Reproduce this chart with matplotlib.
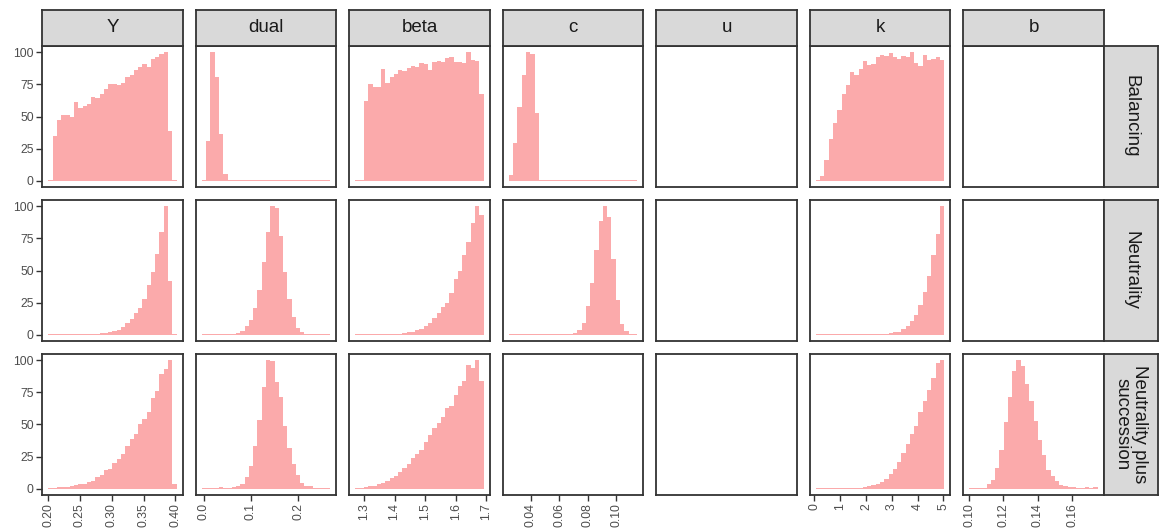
import numpy as np
import matplotlib.pyplot as plt

plt.rcParams['font.family'] = ['Liberation Sans', 'DejaVu Sans']

variables = ['Y', 'dual', 'beta', 'c', 'u', 'k', 'b']
models = ['Balancing', 'Neutrality', 'Neutrality plus\nsuccession']

# span of the histogram bins in each column (30 bins each)
x_ranges = {'Y': (0.2005, 0.4020), 'dual': (-0.004, 0.268), 'beta': (1.272, 1.691),
            'c': (0.0248, 0.1145), 'u': (0.0, 1.0), 'k': (0.06, 5.03), 'b': (0.1002, 0.1747)}
x_ticks = {'Y': [0.20, 0.25, 0.30, 0.35, 0.40], 'dual': [0.0, 0.1, 0.2],
           'beta': [1.3, 1.4, 1.5, 1.6, 1.7], 'c': [0.04, 0.06, 0.08, 0.10], 'u': [],
           'k': [0, 1, 2, 3, 4, 5], 'b': [0.10, 0.12, 0.14, 0.16]}
x_labels = {'Y': ['0.20', '0.25', '0.30', '0.35', '0.40'], 'dual': ['0.0', '0.1', '0.2'],
            'beta': ['1.3', '1.4', '1.5', '1.6', '1.7'], 'c': ['0.04', '0.06', '0.08', '0.10'],
            'u': [], 'k': ['0', '1', '2', '3', '4', '5'], 'b': ['0.10', '0.12', '0.14', '0.16']}
y_ticks = [0, 25, 50, 75, 100]

# scaled counts (max = 100)
bal_Y = [0.8, 34.5, 47, 51, 51.5, 50, 61.6, 57, 58.5, 60, 65.5, 64.7, 67.8, 71.6, 75.5,
         75.5, 74.7, 76.3, 81, 82.5, 86.3, 88.7, 91, 88.7, 94.8, 96.4, 98.7, 100, 39, 0.8]
bal_dual = [0.8, 30.7, 100, 81, 36, 5.2, 0.8, 0.8, 0.8, 0.8, 0.8, 0.8, 0.8, 0.8, 0.8,
            0.8, 0.8, 0.8, 0.8, 0.8, 0.8, 0.8, 0.8, 0.8, 0.8, 0.8, 0.8, 0.8, 0.8, 0.8]
bal_beta = [0.8, 0.8, 62.4, 75.5, 73.2, 73.2, 87, 76.3, 81, 83.2, 86.3, 85.6, 87.9, 89.4, 88.7,
            91.8, 91, 86.3, 92.5, 93.3, 92.5, 95.6, 96.4, 92.5, 92.5, 91.8, 100, 94, 93.3, 67.8]
bal_c = [4.4, 29, 57.7, 82.5, 100, 98.7, 53, 0.8, 0.8, 0.8, 0.8, 0.8, 0.8, 0.8, 0.8,
         0.8, 0.8, 0.8, 0.8, 0.8, 0.8, 0.8, 0.8, 0.8, 0.8, 0.8, 0.8, 0.8, 0.8, 0.8]
bal_k = [0.5, 3.6, 16, 32.2, 44.6, 55.4, 67.8, 74.7, 84.8, 82.5, 87, 93.3, 90, 90.7, 96.4,
         97.9, 97.2, 99.5, 96.4, 94.8, 97.2, 96.4, 100, 91.8, 89.4, 97.9, 94, 94.8, 96.4, 94]

neu_Y = [0.8, 0.8, 0.8, 0.8, 0.8, 0.8, 0.8, 0.8, 0.8, 0.8, 0.8, 0.8, 1.0, 1.5, 2,
         3, 3.6, 6, 9, 12, 16.7, 20.6, 27.6, 39, 48.5, 63, 80, 100, 41.5, 0.8]
neu_dual = [0.8, 0.8, 0.8, 0.8, 0.8, 0.8, 0.8, 0.8, 1.3, 2.8, 6.7, 11.3, 20.6, 34.5, 57,
            80, 100, 98.7, 77, 48.5, 27.6, 13.7, 5.2, 2, 0.8, 0.8, 0.8, 0.8, 0.8, 0.8]
neu_beta = [0.8, 0.8, 0.8, 0.8, 0.8, 0.8, 0.8, 0.8, 0.8, 0.8, 0.8, 1.3, 1.8, 2.3, 3.6,
            4.4, 6.7, 9, 12.9, 16.7, 21.4, 24.5, 32.2, 43, 50, 62.4, 72.4, 87, 100, 93.3]
neu_c = [0.8, 0.8, 0.8, 0.8, 0.8, 0.8, 0.8, 0.8, 0.8, 0.8, 0.8, 0.8, 0.8, 0.8, 0.8,
         1.3, 3.6, 9, 22, 40, 66, 88.7, 100, 91.8, 59, 26.8, 8.2, 2.8, 0.8, 0.8]
neu_k = [0.8, 0.8, 0.8, 0.8, 0.8, 0.8, 0.8, 0.8, 0.8, 0.8, 0.8, 0.8, 0.8, 0.8, 0.8,
         0.8, 0.8, 1.3, 1.8, 2.3, 4.6, 6.7, 10.8, 15.5, 23, 33.2, 45.4, 62.4, 78.6, 100]

suc_Y = [0.8, 0.8, 1.5, 1.5, 1.5, 2.3, 3.1, 3.6, 3.6, 5.2, 6, 9.3, 10.6, 14.4, 15.5,
         19.8, 23, 26.8, 33, 38.4, 42.3, 50, 54.6, 60, 70.9, 76.3, 89.4, 93.3, 100, 3.6]
suc_dual = [0.5, 0.5, 0.5, 0.5, 1.0, 0.5, 0.8, 1.2, 2, 3.6, 9, 17.5, 33, 53.6, 79.4,
            100, 99.5, 83.2, 71.6, 48.5, 31.4, 19, 10.6, 4.4, 2, 2, 0.8, 0.8, 0.8, 0.8]
suc_beta = [0.5, 0.5, 1.3, 2, 2, 3.6, 4.4, 6, 8.2, 9.8, 12.9, 16, 19, 23.7, 26.8,
            30, 36, 41.5, 47, 51.5, 56.2, 63, 64.7, 73.2, 80.2, 84, 96.4, 94, 100, 84]
suc_k = [0.8, 0.8, 0.8, 0.8, 0.8, 0.8, 0.8, 0.8, 0.8, 0.8, 0.8, 1.3, 2, 2.8, 3.9,
         4.9, 7.5, 11.3, 15.2, 20.6, 27.6, 34.5, 42.3, 49.2, 60, 68.6, 77, 86.3, 98, 100]
suc_b = [0.5, 0.5, 0.5, 0.5, 3.6, 6.7, 16, 30, 52.3, 71.6, 91.8, 100, 95.6, 81.7, 68.6,
         53, 37.6, 26, 14.4, 9.8, 6, 2.8, 2, 1.3, 1.3, 0.5, 0.5, 1.3, 0.5, 1.3]

heights = {
    ('Balancing', 'Y'): bal_Y, ('Balancing', 'dual'): bal_dual, ('Balancing', 'beta'): bal_beta,
    ('Balancing', 'c'): bal_c, ('Balancing', 'k'): bal_k,
    ('Neutrality', 'Y'): neu_Y, ('Neutrality', 'dual'): neu_dual, ('Neutrality', 'beta'): neu_beta,
    ('Neutrality', 'c'): neu_c, ('Neutrality', 'k'): neu_k,
    (models[2], 'Y'): suc_Y, (models[2], 'dual'): suc_dual, (models[2], 'beta'): suc_beta,
    (models[2], 'k'): suc_k, (models[2], 'b'): suc_b,
}

pink = '#FBAAAB'
dark = '#333333'
strip_fill = '#D9D9D9'

W, H = 1160, 531
fig = plt.figure(figsize=(W / 100, H / 100), dpi=100)
gs = fig.add_gridspec(3, 7, left=42 / W, right=1104 / W, top=1 - 46 / H, bottom=1 - 495 / H,
                      wspace=0.0887, hspace=0.092)


def style_strip(sax):
    sax.set_facecolor(strip_fill)
    sax.set_xticks([])
    sax.set_yticks([])
    for s in sax.spines.values():
        s.set_color(dark)
        s.set_linewidth(1.3)


for i, model in enumerate(models):
    for j, var in enumerate(variables):
        ax = fig.add_subplot(gs[i, j])
        lo, hi = x_ranges[var]
        pad = (hi - lo) * 0.05
        ax.set_xlim(lo - pad, hi + pad)
        ax.set_ylim(-5, 105)
        h = heights.get((model, var))
        if h is not None:
            edges = np.linspace(lo, hi, len(h) + 1)
            ax.stairs(h, edges, fill=True, color=pink, linewidth=0)
        for s in ax.spines.values():
            s.set_color(dark)
            s.set_linewidth(1.3)
        ax.tick_params(length=4, width=1, color=dark, labelcolor='#4D4D4D',
                       labelsize=8.8, pad=2)
        if j == 0:
            ax.set_yticks(y_ticks)
            ax.set_yticklabels([str(t) for t in y_ticks])
        else:
            ax.set_yticks([])
        if i == 2:
            ax.set_xticks(x_ticks[var])
            ax.set_xticklabels(x_labels[var], rotation=90)
        else:
            ax.set_xticks([])

        pos = ax.get_position()
        if i == 0:
            sax = fig.add_axes([pos.x0, pos.y1, pos.width, 36.5 / H])
            style_strip(sax)
            sax.text(0.5, 0.5, var, ha='center', va='center', fontsize=13.5,
                     color='#1A1A1A', transform=sax.transAxes)
        if j == 6:
            sax = fig.add_axes([pos.x1, pos.y0, 54 / W, pos.height])
            style_strip(sax)
            sax.text(0.5, 0.5, model, ha='center', va='center', fontsize=13.5,
                     color='#1A1A1A', rotation=-90, linespacing=1.0,
                     transform=sax.transAxes)

fig.savefig('out.png', dpi=100)
